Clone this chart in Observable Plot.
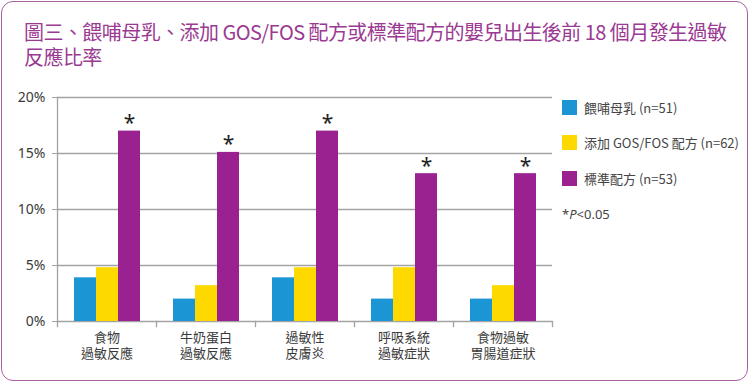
<!DOCTYPE html>
<html>
<head>
<meta charset="utf-8">
<script src="https://cdn.jsdelivr.net/npm/d3@7"></script>
<script src="https://cdn.jsdelivr.net/npm/@observablehq/plot@0.6"></script>
<style>
  html, body { margin: 0; padding: 0; background: #fff; }
  #card {
    position: relative; width: 747px; height: 380px; margin: 1px 0 0 1px;
    border: 1.5px solid #a8619f; border-radius: 12px; box-sizing: border-box;
    background: #fff; overflow: hidden;
    font-family: "Noto Sans CJK TC", "Noto Sans", sans-serif;
  }
  #title {
    position: absolute; left: 22px; top: 17px; white-space: nowrap;
    font-size: 20px; line-height: 25px; color: #9a3a92; font-weight: 400;
    letter-spacing: -0.55px;
  }
  #chart { position: absolute; left: -4px; top: 77px; }
  #legend { position: absolute; left: 560px; top: 94px; font-size: 13px; color: #444;
    font-family: "Noto Sans", "Noto Sans CJK TC", sans-serif; }
  .row { display: flex; align-items: center; height: 22px; margin-bottom: 13.5px; }
  .sw { width: 15px; height: 15px; margin-right: 7px; }
  .lab { font-family: "Noto Sans CJK TC", "Noto Sans", sans-serif; }
</style>
</head>
<body>
<div id="card">
  <div id="title"></div>
  <div id="chart"></div>
  <div id="legend"></div>
</div>
<script>
const titleLines = ["圖三、餵哺母乳、添加 GOS/FOS 配方或標準配方的嬰兒出生後前 18 個月發生過敏", "反應比率"];
const categories = ["食物\n過敏反應", "牛奶蛋白\n過敏反應", "過敏性\n皮膚炎", "呼吸系統\n過敏症狀", "食物過敏\n胃腸道症狀"];
const seriesNames = ["餵哺母乳 (n=51)", "添加 GOS/FOS 配方 (n=62)", "標準配方 (n=53)"];
const seriesColors = ["#1b95d3", "#fdd900", "#9a2290"];
const breastfed = [3.9, 2.0, 3.9, 2.0, 2.0];
const gosFos    = [4.8, 3.2, 4.8, 4.8, 3.2];
const standard  = [17.0, 15.1, 17.0, 13.2, 13.2];
const significant = [true, true, true, true, true];
const yTicks = [0, 5, 10, 15, 20];
const noteText = "P<0.05";

const titleEl = document.getElementById("title");
titleLines.forEach((t, i) => {
  if (i) titleEl.appendChild(document.createElement("br"));
  titleEl.appendChild(document.createTextNode(t));
});

const seriesValues = [breastfed, gosFos, standard];
const rows = [];
categories.forEach((c, i) => seriesValues.forEach((vals, s) => rows.push({category: c, series: seriesNames[s], value: vals[i], sig: s === 2 && significant[i]})));

const chart = Plot.plot({
  width: 565,
  height: 300,
  marginLeft: 58,
  marginRight: 10,
  marginTop: 18,
  marginBottom: 58,
  style: {fontFamily: "'Noto Sans', 'Noto Sans CJK TC', sans-serif", fontSize: "13px", color: "#3a3a3a", background: "transparent"},
  fx: {domain: categories, padding: 0, label: null},
  x: {domain: seriesNames, paddingInner: 0, paddingOuter: 0.75, axis: null},
  y: {domain: [0, 20], axis: null},
  color: {domain: seriesNames, range: seriesColors},
  marks: [
    Plot.ruleY(yTicks, {stroke: "#a3a3a3", strokeWidth: 1.3}),
    Plot.axisY(yTicks, {anchor: "left", tickSize: 5, tickPadding: 7, stroke: "#a3a3a3", tickFormat: d => d + "%", fontSize: 14, fill: "#3a3a3a", label: null}),
    Plot.frame({anchor: "left", facetAnchor: "left", stroke: "#a3a3a3", strokeWidth: 1.3}),
    Plot.frame({anchor: "left", stroke: "#a3a3a3", strokeWidth: 1.3, insetTop: 224, insetBottom: -5}),
    Plot.frame({anchor: "right", facetAnchor: "right", stroke: "#a3a3a3", strokeWidth: 1.3, insetTop: 224, insetBottom: -5}),
    Plot.barY(rows, {fx: "category", x: "series", y: "value", fill: "series"}),
    Plot.text(rows.filter(d => d.sig), {fx: "category", x: "series", y: "value", text: () => "*", fontSize: 21, lineAnchor: "bottom", dy: -1, fill: "#222"}),
    Plot.axisFx({anchor: "bottom", tickSize: 0, tickPadding: 9, fontSize: 13, lineHeight: 1.25, fill: "#3a3a3a", fontFamily: "'Noto Sans CJK TC', sans-serif", label: null})
  ]
});
document.getElementById("chart").appendChild(chart);

const legend = document.getElementById("legend");
seriesNames.forEach((n, i) => {
  const r = document.createElement("div");
  r.className = "row";
  r.innerHTML = `<div class="sw" style="background:${seriesColors[i]}"></div><span class="lab">${n}</span>`;
  legend.appendChild(r);
});
const note = document.createElement("div");
note.className = "row";
const span = document.createElement("span");
span.innerHTML = "*<i>" + noteText.slice(0, 1) + "</i>" + noteText.slice(1).replace("<", "&lt;");
note.appendChild(span);
legend.appendChild(note);
</script>
</body>
</html>
